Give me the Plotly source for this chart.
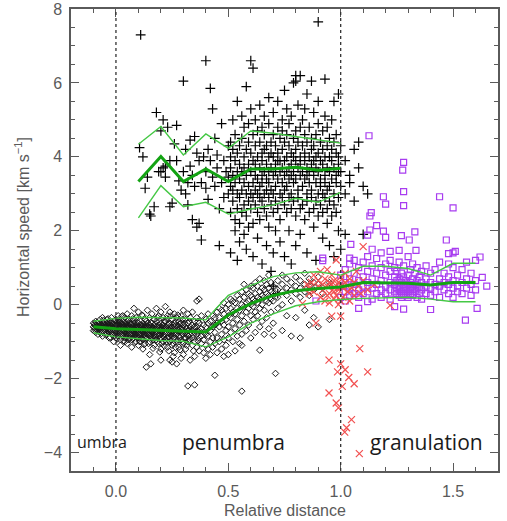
import plotly.graph_objects as go

# ---------------- data ----------------
# Black "+" : penumbral upper-layer speeds (column x -> list of y)
plus_cols = [
    (0.105, [4.25]), (0.11, [7.3]), (0.12, [4.0]), (0.13, [3.15]), (0.14, [3.45]),
    (0.15, [2.45]), (0.155, [2.4]), (0.17, [2.65]), (0.18, [5.2]), (0.19, [3.6]),
    (0.20, [4.7, 3.6]), (0.21, [3.7, 5.0]), (0.22, [3.45, 3.75]), (0.23, [4.8]),
    (0.24, [3.9, 2.65]), (0.25, [2.75]), (0.26, [4.35]), (0.27, [3.9, 4.85]),
    (0.28, [3.35]), (0.29, [3.1]), (0.30, [6.05, 3.6]), (0.31, [4.2, 3.0]),
    (0.32, [3.3, 2.7]), (0.33, [4.45, 3.75]), (0.34, [3.5, 2.3]), (0.35, [4.55, 3.2]),
    (0.36, [4.1, 2.1]), (0.37, [3.9, 2.2]), (0.38, [1.75, 3.3]), (0.39, [4.0]),
    (0.40, [6.6, 3.15, 3.6]), (0.41, [4.2, 2.85]), (0.42, [5.85, 3.9]), (0.43, [3.45, 5.3]),
    (0.44, [4.5, 3.2]), (0.45, [3.7, 4.05]), (0.46, [2.6, 1.6]), (0.47, [3.3, 4.9]),
    (0.48, [3.9, 2.9]), (0.49, [3.6]), (0.50, [4.3, 3.0, 3.45]),
    (0.51, [3.2, 4.0, 2.5, 3.7, 1.4, 4.4]), (0.52, [3.5, 2.8, 4.2, 3.1, 5.0]),
    (0.53, [3.9, 2.3, 3.3, 4.6, 2.0]), (0.54, [3.0, 3.6, 4.1, 2.6, 1.2, 5.5]),
    (0.55, [3.4, 2.9, 4.3, 3.8, 2.2, 1.7]), (0.56, [3.1, 4.5, 3.6, 2.5, 5.1]),
    (0.57, [3.7, 2.7, 4.0, 3.3, 1.9, 4.8]), (0.58, [5.9, 3.5, 2.4, 4.2, 3.0, 1.5]),
    (0.59, [3.8, 2.8, 4.4, 3.2, 2.1, 4.9]), (0.60, [6.6, 3.6, 4.1, 2.6, 3.0, 5.3]),
    (0.61, [6.4, 3.9, 3.3, 2.9, 4.6, 2.2, 1.3]), (0.62, [3.5, 4.3, 2.7, 3.1, 5.0, 3.8]),
    (0.63, [4.0, 3.4, 2.5, 4.7, 1.8, 3.0]), (0.64, [3.7, 2.9, 4.4, 3.2, 5.4, 2.3]),
    (0.65, [3.9, 3.5, 4.1, 2.8, 1.1, 4.8, 3.3]), (0.66, [4.2, 3.0, 3.6, 2.6, 5.1, 4.6]),
    (0.67, [3.4, 3.8, 2.4, 4.3, 1.6, 3.1]), (0.68, [4.0, 3.6, 2.9, 4.9, 3.3, 2.1, 5.6]),
    (0.69, [3.7, 4.4, 2.7, 3.1, 4.1, 0.9]), (0.70, [3.5, 4.0, 3.0, 2.5, 4.6, 5.2, 1.4, 0.5]),
    (0.71, [3.8, 4.3, 3.2, 2.8, 3.6, 2.0]), (0.72, [4.1, 3.4, 3.9, 2.6, 4.8, 5.5, 0.3]),
    (0.73, [3.6, 4.5, 3.0, 2.3, 3.9, 1.7]), (0.74, [3.3, 4.2, 3.7, 2.9, 5.0, 4.7]),
    (0.75, [3.9, 3.5, 4.4, 2.7, 3.1, 1.3, 5.8]), (0.76, [4.0, 3.6, 3.2, 4.6, 2.5, 5.3]),
    (0.77, [3.7, 4.3, 2.9, 3.4, 4.9, 2.0]), (0.78, [3.8, 4.1, 3.0, 3.5, 2.6, 5.1, 1.1]),
    (0.79, [3.6, 4.5, 3.3, 2.8, 4.0, 6.0]), (0.80, [6.2, 6.05, 3.9, 3.4, 4.2, 2.4, 4.7, 1.6]),
    (0.81, [3.7, 3.1, 4.4, 2.9, 5.4]), (0.82, [6.2, 4.0, 3.5, 3.8, 2.6, 4.8, 1.9]),
    (0.83, [3.6, 4.3, 3.2, 2.7, 5.0]), (0.84, [3.9, 3.4, 4.1, 2.3, 4.6, 5.3]),
    (0.85, [3.7, 4.4, 3.0, 3.5, 2.8, 1.4, 5.7]), (0.86, [4.0, 3.6, 3.3, 4.8, 2.5]),
    (0.87, [6.05, 3.8, 4.2, 3.1, 2.9, 4.5]), (0.88, [3.5, 3.9, 2.6, 4.3, 5.2, 2.1]),
    (0.89, [3.7, 3.3, 4.6, 2.8, 4.0, 1.2]), (0.90, [7.65, 3.6, 4.1, 3.0, 2.4, 4.9, 5.5]),
    (0.91, [3.9, 3.4, 4.4, 2.7, 3.2]), (0.92, [3.8, 4.2, 3.0, 2.5, 4.7, 1.8]),
    (0.93, [6.1, 3.5, 4.0, 3.3, 2.9, 5.1]), (0.94, [3.7, 4.3, 2.6, 3.1, 4.8, 2.2]),
    (0.95, [3.6, 4.0, 3.2, 2.8, 4.5, 1.6]), (0.96, [3.9, 3.4, 4.2, 2.4, 5.0]),
    (0.97, [5.5, 3.7, 4.4, 3.0, 2.7, 1.3]), (0.98, [3.5, 4.1, 3.3, 2.5, 4.6]),
    (0.99, [3.8, 4.0, 2.9, 3.6, 5.7, 2.0]), (1.00, [3.6, 3.2, 4.3, 1.5]),
    (1.02, [3.9, 3.0, 1.9]), (1.04, [3.5, 3.3]), (1.06, [4.2, 2.8]),
    (1.08, [3.7, 4.4]), (1.10, [3.2, 1.9]), (1.12, [3.0]),
]

# Black diamonds : penumbral lower-layer speeds
diamond_cols = [
    (-0.10, [-0.5, -0.6, -0.7]), (-0.09, [-0.45, -0.65, -0.55, -0.75]),
    (-0.08, [-0.6, -0.5, -0.7, -0.8]), (-0.07, [-0.55, -0.4, -0.65, -0.75]),
    (-0.06, [-0.6, -0.5, -0.7, -0.85, -0.35]), (-0.05, [-0.55, -0.65, -0.45, -0.75]),
    (-0.04, [-0.6, -0.7, -0.5, -0.4, -0.8]), (-0.03, [-0.65, -0.55, -0.75, -0.45, -0.9]),
    (-0.02, [-0.6, -0.7, -0.5, -0.8, -0.35]), (-0.01, [-0.65, -0.55, -0.45, -0.75, -1.0]),
    (0.00, [-0.6, -0.7, -0.5, -0.8, -0.4, -0.9]), (0.01, [-0.65, -0.55, -0.75, -0.45, -0.85, -0.3]),
    (0.02, [-0.6, -0.7, -0.5, -0.8, -0.95, -0.4, -1.1]), (0.03, [-0.65, -0.75, -0.55, -0.45, -0.85, -0.3]),
    (0.04, [-0.6, -0.7, -0.8, -0.5, -0.9, -0.35, -1.0]), (0.05, [-0.65, -0.55, -0.75, -0.85, -0.45, -0.25, -1.05]),
    (0.06, [-0.7, -0.6, -0.8, -0.5, -0.9, -0.4]), (0.07, [-0.65, -0.75, -0.55, -0.85, -0.95, -0.3, -1.15]),
    (0.08, [-0.7, -0.6, -0.8, -0.5, -0.9, -0.4, -0.1]), (0.09, [-0.65, -0.75, -0.55, -0.85, -1.0, -0.35]),
    (0.10, [-0.7, -0.6, -0.8, -0.5, -0.9, -0.2, -1.1]), (0.11, [-0.75, -0.65, -0.55, -0.85, -0.45, -1.0]),
    (0.12, [-0.7, -0.6, -0.8, -0.5, -0.95, -0.3, -1.2]), (0.13, [-0.75, -0.65, -0.85, -0.55, -0.4, -1.05]),
    (0.135, [-1.69]), (0.155, [-1.6]),
    (0.14, [-0.7, -0.6, -0.8, -0.9, -0.5, -0.15]), (0.15, [-0.75, -0.65, -0.55, -0.85, -1.0, -0.35, -1.35]),
    (0.16, [-0.7, -0.8, -0.6, -0.5, -0.9, -0.25]), (0.17, [-0.75, -0.65, -0.85, -0.55, -1.1, -0.4]),
    (0.18, [-0.7, -0.6, -0.8, -0.95, -0.45, -0.1]), (0.19, [-0.75, -0.65, -0.55, -0.85, -1.05, -0.3]),
    (0.20, [-0.7, -0.8, -0.6, -0.9, -0.5, -1.2, -0.2, -1.5]), (0.21, [-0.75, -0.65, -0.85, -0.55, -1.0, -0.35]),
    (0.22, [-0.7, -0.6, -0.8, -0.45, -0.95, -0.05]), (0.23, [-0.75, -0.65, -0.9, -0.55, -1.15, -0.3]),
    (0.24, [-0.7, -0.8, -0.6, -0.5, -1.0, -0.2, -1.5]), (0.25, [-0.75, -0.65, -0.85, -0.4, -1.1, -1.55]),
    (0.26, [-0.7, -0.6, -0.9, -0.5, -0.25, -1.3]), (0.27, [-0.8, -0.65, -0.55, -1.0, -0.35, -1.6]),
    (0.28, [-0.7, -0.6, -0.85, -0.45, -1.15]), (0.29, [-0.75, -0.65, -0.95, -0.3, -0.5, -1.45]),
    (0.30, [-0.7, -0.8, -0.55, -1.05, -0.15, -1.35]), (0.31, [-0.75, -0.6, -0.9, -0.4, -1.2]),
    (0.32, [-0.7, -0.85, -0.5, -1.0, -0.25, -2.2]), (0.33, [-0.8, -0.6, -0.95, -0.35, -1.5]),
    (0.34, [-0.7, -0.55, -0.9, -1.1, -0.2]), (0.35, [-0.75, -0.45, -1.0, -0.6, -1.4, -2.17]),
    (0.36, [-0.8, -0.6, -1.15, -0.35, 0.1]), (0.37, [-0.7, -0.9, -0.5, -1.25, 0.15]),
    (0.38, [-0.85, -0.65, -1.05, -0.3]), (0.39, [-0.75, -0.95, -0.55, -1.3]),
    (0.40, [-0.8, -0.6, -1.1, -0.4, -1.45]), (0.41, [-0.85, -0.5, -1.2, -0.25]),
    (0.42, [-0.7, -1.0, -0.45, -1.35]), (0.43, [-0.9, -0.6, -0.3, -1.15]),
    (0.44, [-0.75, -0.35, -1.05, -0.55, -1.91]), (0.45, [-0.5, -0.9, -0.2, -1.3]),
    (0.46, [-0.6, -0.35, -1.0, -0.1]), (0.47, [-0.45, -0.8, -0.15, -1.2]),
    (0.48, [-0.55, -0.25, -0.95, 0.05, -1.4]), (0.49, [-0.4, -0.7, -0.1, -1.1]),
    (0.50, [-0.3, -0.6, 0.0, -0.9, -1.35]), (0.51, [-0.35, -0.1, -0.75, 0.15]),
    (0.52, [-0.2, -0.5, 0.1, -1.0]), (0.53, [-0.25, 0.05, -0.65, -1.25]),
    (0.54, [-0.1, -0.4, 0.25, -0.85]), (0.55, [-0.15, 0.15, -0.55, -1.05]),
    (0.56, [0.0, -0.3, 0.35, -0.8, -1.1, -2.34]), (0.57, [-0.05, 0.2, -0.45, 0.55]),
    (0.58, [0.05, -0.2, 0.4, -0.7]), (0.59, [0.1, -0.1, 0.3, -0.55]),
    (0.60, [0.0, 0.25, -0.3, 0.5, -0.9]), (0.61, [0.15, -0.05, 0.45, -0.4]),
    (0.62, [0.1, 0.3, -0.2, 0.6, -0.75]), (0.63, [0.2, 0.05, 0.5, -0.3]),
    (0.64, [0.15, 0.35, -0.1, 0.7, -0.6, -1.23]), (0.65, [0.25, 0.0, 0.45, -0.45]),
    (0.66, [0.2, 0.4, -0.15, 0.65, -0.8]), (0.67, [0.3, 0.1, 0.55, -0.35]),
    (0.68, [0.25, 0.45, 0.05, 0.8, -0.65]), (0.69, [0.35, 0.15, -0.2, 0.6]),
    (0.70, [0.3, 0.5, 0.1, -0.5, -0.83]), (0.71, [-1.86]), (0.72, [0.4, 0.2, 0.65, -0.1]),
    (0.74, [0.35, 0.55, 0.0, 0.8, -0.7]), (0.76, [0.45, 0.25, 0.7, -0.3]),
    (0.78, [0.4, 0.6, 0.1, -0.85]), (0.80, [0.5, 0.3, 0.75, -0.35]),
    (0.82, [0.45, 0.65, 0.2, -0.9]), (0.84, [0.55, 0.35, 0.85, -0.15]),
    (0.86, [0.5, 0.7, 0.25, -0.55]), (0.88, [0.6, 0.4, -0.35]),
    (0.90, [0.55, 0.75, -0.6]), (0.92, [0.45, 0.3]), (0.95, [0.6, -0.4]),
]

# Extra diamonds filling the dense umbral/inner-penumbral core
diamond_core_cols = [
    (-0.095, [-0.62, -0.52, -0.72]), (-0.085, [-0.58, -0.68, -0.48]), (-0.075, [-0.63, -0.73, -0.53]),
    (-0.065, [-0.57, -0.67, -0.78]), (-0.055, [-0.62, -0.52, -0.72, -0.42]), (-0.045, [-0.58, -0.68, -0.82]),
    (-0.035, [-0.62, -0.72, -0.52, -0.38]), (-0.025, [-0.58, -0.68, -0.88]), (-0.015, [-0.62, -0.72, -0.52, -0.82]),
    (-0.005, [-0.58, -0.68, -0.78, -0.42]), (0.005, [-0.63, -0.73, -0.53, -0.93]), (0.015, [-0.57, -0.67, -0.77, -0.47]),
    (0.025, [-0.62, -0.72, -0.82, -0.52, -0.32]), (0.035, [-0.58, -0.68, -0.78, -0.98]), (0.045, [-0.62, -0.72, -0.52, -0.88]),
    (0.055, [-0.68, -0.78, -0.58, -0.42, -0.95]), (0.065, [-0.62, -0.72, -0.82, -0.52]), (0.075, [-0.68, -0.78, -0.58, -0.92, -0.38]),
    (0.085, [-0.62, -0.72, -0.82, -1.02]), (0.095, [-0.68, -0.78, -0.58, -0.48, -0.88]), (0.105, [-0.72, -0.82, -0.62, -1.0]),
    (0.115, [-0.68, -0.78, -0.58, -0.92, -0.28]), (0.125, [-0.72, -0.82, -0.62, -1.08]), (0.135, [-0.68, -0.78, -0.58, -0.92, -0.45]),
    (0.145, [-0.72, -0.82, -0.62, -1.05]), (0.155, [-0.68, -0.78, -0.88, -0.48]), (0.165, [-0.72, -0.62, -0.95, -1.18]),
    (0.175, [-0.68, -0.78, -0.88, -0.52]), (0.185, [-0.72, -0.62, -1.0, -0.35]), (0.195, [-0.68, -0.82, -0.92, -1.28]),
    (0.205, [-0.72, -0.62, -0.55, -1.05]), (0.215, [-0.78, -0.88, -0.45, -1.12]), (0.225, [-0.72, -0.62, -1.0, -0.38]),
    (0.235, [-0.78, -0.88, -0.52, -1.25]), (0.245, [-0.72, -0.62, -0.95, -0.3]), (0.255, [-0.78, -0.55, -1.05, -1.4]),
    (0.265, [-0.72, -0.82, -0.45, -1.15]), (0.275, [-0.78, -0.62, -0.95, -0.28]), (0.285, [-0.72, -0.88, -0.52, -1.22]),
    (0.295, [-0.78, -0.62, -1.0, -0.4]), (0.305, [-0.72, -0.9, -0.5]), (0.315, [-0.8, -0.65, -1.1]),
    (0.325, [-0.7, -0.95, -0.45]), (0.345, [-0.82, -0.62, -1.25]), (0.365, [-0.72, -0.98, -0.45]),
]

# Red crosses : boundary region
cross_x = [0.83, 0.85, 0.86, 0.87, 0.88, 0.88, 0.89, 0.90, 0.90, 0.91, 0.91, 0.92, 0.92,
           0.93, 0.93, 0.94, 0.94, 0.95, 0.95, 0.95, 0.96, 0.96, 0.96, 0.97, 0.97, 0.97,
           0.98, 0.98, 0.98, 0.99, 0.99, 0.99, 1.00, 1.00, 1.00, 1.01, 1.01, 1.02, 1.02,
           1.03, 1.03, 1.04, 1.04, 1.05, 1.06, 1.06, 1.07, 1.08, 1.09, 1.10, 1.10, 1.12,
           1.15, 1.22, 0.86, 0.97, 1.0, 0.94,
           1.085, 0.948, 1.0, 1.02, 0.986, 1.12, 1.036, 1.06, 1.007, 0.948, 0.98, 0.99,
           1.048, 1.026, 1.018, 1.083]
cross_y = [0.03, 0.55, 0.45, 0.6, 0.8, 0.35, -0.5, 0.5, 0.65, 0.2, 0.9, 0.55, 0.4,
           0.7, 0.1, 0.95, 0.5, 0.6, 0.3, 0.05, 0.55, -0.31, 0.8, 0.45, 0.15, 0.65,
           1.21, 0.5, 0.25, 0.6, 0.0, 0.4, 0.55, -0.31, 0.75, 0.45, 0.2, 0.6, 0.85,
           0.35, 0.5, 0.1, 0.7, 0.45, 0.6, 0.25, 0.9, 0.5, 0.3, 1.57, 0.65, 0.4,
           0.55, -0.02, 0.3, 0.35, 0.1, 0.25,
           -1.19, -1.5, -1.6, -1.76, -1.82, -1.82, -1.97, -2.14, -2.21, -2.39, -2.66, -2.79,
           -3.11, -3.33, -3.45, -4.03]

# Purple squares : granulation
square_cols = [
    (0.92, [1.26, 1.19]), (0.89, [0.1]), (1.00, [0.5, 0.8, 0.2]), (1.02, [0.6, 0.35, 0.95, 0.1]),
    (1.04, [0.45, 0.7, 1.1, 0.25, 1.26]), (1.045, [1.63]), (1.06, [0.55, 0.85, 0.3, 1.2]),
    (1.08, [0.65, 0.4, 1.0, 0.2, -0.1]), (1.10, [0.5, 0.75, 1.15, 0.3]),
    (1.12, [0.6, 0.9, 0.35, 1.3, 1.88, 0.08]), (1.126, [4.57]), (1.13, [2.40, 2.02]),
    (1.136, [2.49]), (1.14, [0.7, 0.45, 1.05, 0.15, 1.5]), (1.16, [0.55, 0.85, 0.3, 1.25, 2.14]),
    (1.18, [0.65, 0.4, 1.0, 0.2, 1.4]), (1.19, [2.92, 1.99]), (1.20, [0.5, 0.8, 0.3, 1.1, 2.72, 1.82]),
    (1.22, [0.6, 0.9, 0.4, 1.2, 0.15, 1.44]), (1.24, [0.55, 0.75, 0.35, 1.0, -0.05]),
    (1.25, [0.45, 0.65, 0.3, 0.9]), (1.26, [0.5, 0.7, 0.25, 1.15, 0.4, 1.47]),
    (1.27, [0.6, 0.35, 0.85, 0.2, 1.87]), (1.276, [3.64]), (1.28, [0.45, 0.55, 0.3, 0.75, 1.05, -0.12, 3.85, 3.06, 2.68]),
    (1.29, [0.5, 0.65, 0.25, 0.4]), (1.30, [0.55, 0.35, 0.8, 0.2, 1.3]), (1.305, [1.75]),
    (1.31, [0.45, 0.6, 0.3, 0.95]), (1.32, [0.5, 0.7, 0.25, 0.4, 1.1]), (1.33, [0.55, 0.35, 0.85, 1.97]),
    (1.335, [1.47]), (1.34, [0.45, 0.65, 0.2, 1.0]), (1.35, [0.5, 0.3, 0.75]),
    (1.36, [0.6, 0.4, 0.9, 0.15]), (1.38, [0.5, 0.7, 0.3, 1.05]), (1.40, [0.45, 0.6, 0.25, 0.85, -0.13]),
    (1.42, [0.55, 0.35, 0.95]), (1.44, [0.5, 0.7, 0.2, 1.15, 2.92]), (1.46, [0.6, 0.4, 0.85]),
    (1.47, [1.75]), (1.48, [0.55, 0.75, 0.3, 1.1, 1.38]), (1.50, [0.65, 0.45, 1.0, 0.2, 2.62, 1.40]),
    (1.51, [1.44]), (1.52, [0.5, 0.8, 0.35]), (1.54, [0.6, 0.95, 0.3]), (1.555, [-0.42]),
    (1.56, [0.7, 0.45, 1.15]), (1.58, [0.55, 0.85, 0.25]), (1.60, [0.65, 1.2, 0.4]),
    (1.607, [-0.1]), (1.62, [1.29]), (1.63, [0.74]), (1.65, [0.5]),
]

# Green binned statistics (mean and mean +/- sigma)
plus_bins = [0.1, 0.2, 0.3, 0.4, 0.5, 0.6, 0.7, 0.8, 0.9, 1.0]
plus_mean = [3.33, 4.01, 3.33, 3.67, 3.33, 3.67, 3.67, 3.72, 3.64, 3.69]
plus_upper = [4.34, 4.82, 4.05, 4.62, 4.23, 4.70, 4.64, 4.55, 4.46, 4.37]
plus_lower = [2.35, 3.22, 2.65, 2.77, 2.45, 2.59, 2.70, 2.88, 2.77, 3.04]

low_bins = [-0.1, 0.0, 0.1, 0.2, 0.3, 0.4, 0.5, 0.6, 0.7, 0.8, 0.9, 1.0, 1.1, 1.2, 1.3, 1.4, 1.5, 1.6]
low_mean = [-0.60, -0.65, -0.67, -0.69, -0.71, -0.74, -0.28, 0.03, 0.25, 0.38, 0.44, 0.48,
            0.60, 0.60, 0.58, 0.53, 0.60, 0.60]
low_upper = [-0.45, -0.37, -0.34, -0.34, -0.36, -0.41, 0.25, 0.52, 0.76, 0.86, 0.89, 0.80,
             1.04, 1.04, 0.98, 0.80, 1.12, 1.12]
low_lower = [-0.76, -0.87, -0.92, -0.97, -0.99, -1.14, -0.87, -0.50, -0.25, -0.03, 0.08, 0.14,
             0.17, 0.18, 0.20, 0.15, 0.08, 0.08]

region_bounds = [0.0, 1.0]
region_labels = ["umbra", "penumbra", "granulation"]
region_label_x = [-0.06, 0.525, 1.38]

xticks = [0.0, 0.5, 1.0, 1.5]
yticks = [-4, -2, 0, 2, 4, 6, 8]


def flatten(cols):
    xs, ys = [], []
    for x, yl in cols:
        for y in yl:
            xs.append(x)
            ys.append(y)
    return xs, ys


plus_x, plus_y = flatten(plus_cols)
dia_x, dia_y = flatten(diamond_cols + diamond_core_cols)
sq_x, sq_y = flatten(square_cols)

AX = "#5a5a5a"
THICK = "#13a313"
THIN = "#45c845"

fig = go.Figure()
fig.add_trace(go.Scatter(x=dia_x, y=dia_y, mode="markers",
                         marker=dict(symbol="diamond-open", size=5, color="#1a1a1a",
                                     line=dict(width=1.0, color="#1a1a1a"))))
fig.add_trace(go.Scatter(x=plus_x, y=plus_y, mode="markers",
                         marker=dict(symbol="cross-thin-open", size=7, color="#000",
                                     line=dict(width=1.2, color="#000"))))
fig.add_trace(go.Scatter(x=sq_x, y=sq_y, mode="markers",
                         marker=dict(symbol="square-open", size=6, color="#a83cf0",
                                     line=dict(width=1.2, color="#a83cf0"))))
fig.add_trace(go.Scatter(x=cross_x, y=cross_y, mode="markers",
                         marker=dict(symbol="x-thin-open", size=7, color="#f25050",
                                     line=dict(width=1.2, color="#f25050"))))

for bx, m, u, l in [(plus_bins, plus_mean, plus_upper, plus_lower),
                    (low_bins, low_mean, low_upper, low_lower)]:
    fig.add_trace(go.Scatter(x=bx, y=u, mode="lines", line=dict(color=THIN, width=1.4)))
    fig.add_trace(go.Scatter(x=bx, y=l, mode="lines", line=dict(color=THIN, width=1.4)))
    fig.add_trace(go.Scatter(x=bx, y=m, mode="lines", line=dict(color=THICK, width=3)))

for b in region_bounds:
    fig.add_shape(type="line", x0=b, x1=b, y0=0, y1=1, xref="x", yref="paper",
                  line=dict(color="#333", width=1.3, dash="dot"))

sizes = [16, 21, 21]
for lab, lx, sz in zip(region_labels, region_label_x, sizes):
    fig.add_annotation(x=lx, y=-3.72, text=lab, showarrow=False, xref="x", yref="y",
                       font=dict(family="Open Sans", size=sz, color="#1a1a1a"),
                       xanchor="center", yanchor="middle")

fig.add_annotation(x=0, y=0.528, xref="paper", yref="paper", xshift=-49,
                   text="Horizontal speed [km s<sup>\u22121</sup>]", textangle=-90,
                   showarrow=False, font=dict(family="Liberation Sans", size=16, color=AX),
                   xanchor="center", yanchor="middle")
fig.add_annotation(x=0.5, y=0, xref="paper", yref="paper", yshift=-39,
                   text="Relative distance", showarrow=False,
                   font=dict(family="Liberation Sans", size=16, color=AX),
                   xanchor="center", yanchor="middle")

axis_common = dict(showgrid=False, zeroline=False, showline=True, linecolor=AX, linewidth=1.5,
                   mirror="ticks", ticks="inside", tickcolor=AX, tickwidth=1.3, ticklen=8,
                   automargin=False,
                   tickfont=dict(family="Liberation Sans", size=16, color=AX))

fig.update_xaxes(range=[-0.2, 1.7], tickvals=xticks, ticktext=[f"{v:.1f}" for v in xticks],
                 minor=dict(dtick=0.1, tick0=0, ticks="inside", ticklen=4, tickcolor=AX, tickwidth=1.3),
                 ticklabelstandoff=5, **axis_common)
fig.update_yaxes(range=[-4.5, 8], tickvals=yticks,
                 minor=dict(dtick=0.5, tick0=0, ticks="inside", ticklen=4, tickcolor=AX, tickwidth=1.3),
                 ticklabelstandoff=4, **axis_common)

fig.update_layout(width=507, height=521, margin=dict(l=71, r=9, t=9, b=50, autoexpand=False),
                  paper_bgcolor="white", plot_bgcolor="white", showlegend=False)

fig.write_html("out.html", config={"displayModeBar": False},
               post_script="document.body.style.margin='0';document.body.style.overflow='hidden';")
